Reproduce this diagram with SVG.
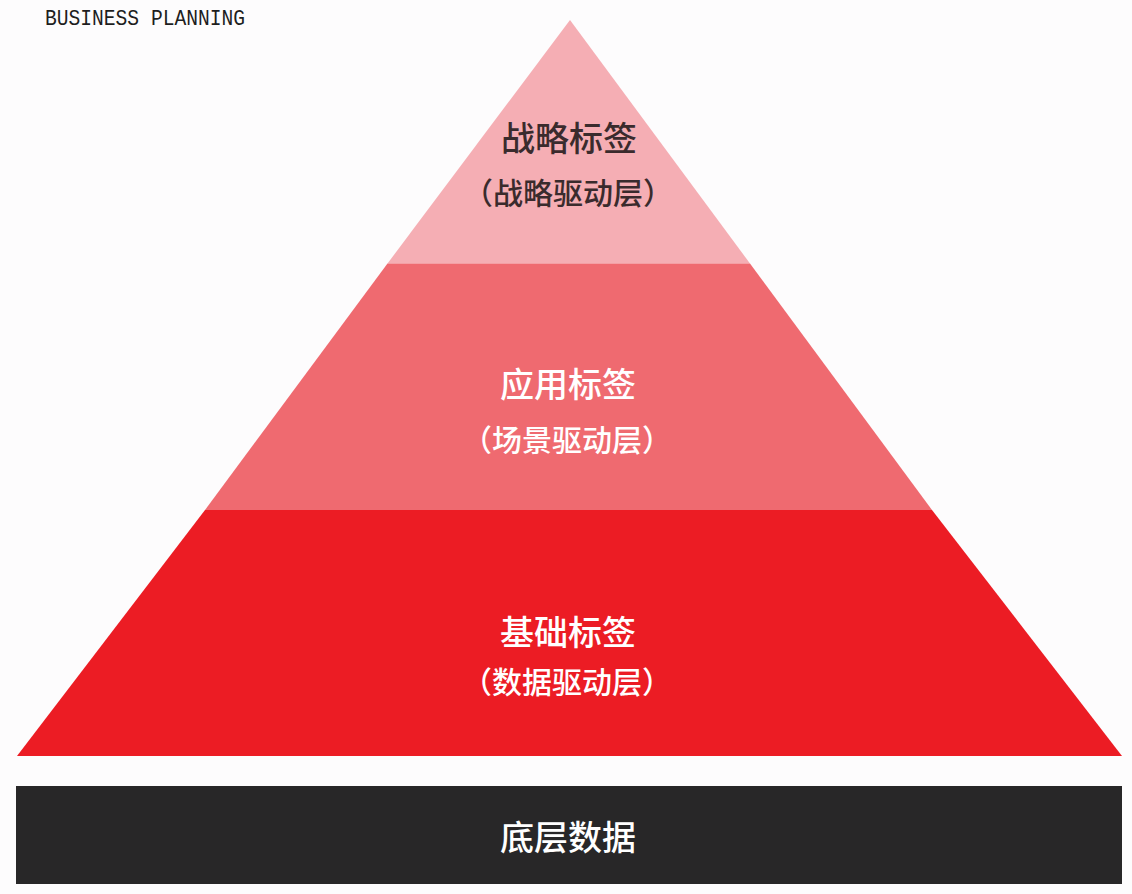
<svg xmlns="http://www.w3.org/2000/svg" width="1132" height="894" viewBox="0 0 1132 894">
  <style>
    .cjk { font-family: "Noto Sans CJK SC", "Noto Sans", sans-serif; text-anchor: middle; font-weight: 500; }
    .title { font-size: 34px; }
    .sub { font-size: 30px; }
    .dark { fill: #3a2b2d; }
    .light { fill: #ffffff; }
    .mono { font-family: "Liberation Mono", "DejaVu Sans Mono", monospace; font-size: 22px; fill: #1e1e1e; }
  </style>
  <rect x="0" y="0" width="1132" height="894" fill="#fdfcfd"/>
  <text class="mono" x="45" y="25" textLength="200" lengthAdjust="spacingAndGlyphs">BUSINESS PLANNING</text>
  <g id="layer-strategy">
    <polygon points="570,20 750,263.5 387.5,263.5" fill="#f5aeb4"/>
    <text class="cjk title dark" x="569" y="151">战略标签</text>
    <text class="cjk sub dark" x="568" y="204">（战略驱动层）</text>
  </g>
  <g id="layer-application">
    <polygon points="387.5,263.5 750,263.5 932,510 205,510" fill="#ef6a70"/>
    <text class="cjk title light" x="568" y="397">应用标签</text>
    <text class="cjk sub light" x="567" y="451">（场景驱动层）</text>
  </g>
  <g id="layer-base">
    <polygon points="205,510 932,510 1122,756 17,756" fill="#ec1c24"/>
    <text class="cjk title light" x="568" y="645">基础标签</text>
    <text class="cjk sub light" x="567" y="693">（数据驱动层）</text>
  </g>
  <g id="bottom-data">
    <rect x="16" y="786" width="1106" height="98" fill="#282728"/>
    <text class="cjk title light" x="568" y="850">底层数据</text>
  </g>
  <g id="connectors"/>
</svg>
